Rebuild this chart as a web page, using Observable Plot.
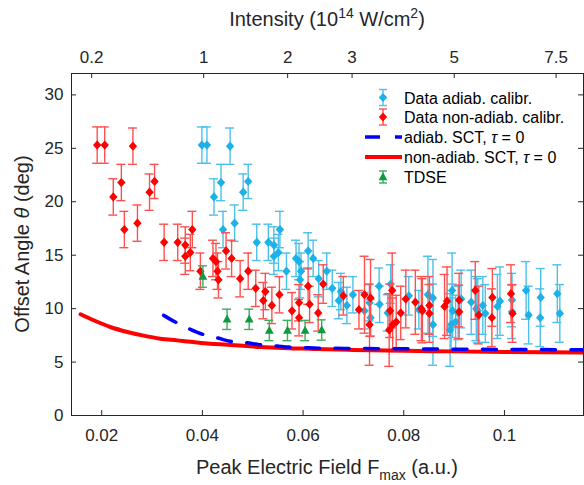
<!DOCTYPE html>
<html><head><meta charset="utf-8">
<script src="https://cdn.jsdelivr.net/npm/d3@7"></script>
<script src="https://cdn.jsdelivr.net/npm/@observablehq/plot@0.6"></script>
<style>
body{margin:0;background:#fff;}
#chart{width:584px;height:485px;}
svg{font-family:"Liberation Sans",Arial,sans-serif;}
</style></head><body><div id="chart"></div>
<script>
// ---- measured offset angles (deg) and their error bars
const theta = [25.3,25.3,25.2,20.45,21.8,17.4,18.0,20.9,21.9,16.2,16.2,15.95,17.4,14.9,15.25,13.5,
  14.7,14.4,13.5,12.7,15.4,14.7,12.8,13.5,11.9,11.6,10.75,10.3,11.3,9.8,10.55,9.15,12.1,10.4,9.6,
  12.3,11.2,9.9,11.3,11.0,8.5,11.7,9.8,8.0,8.5,8.75,9.6,10.9,10.6,10.0,9.8,10.3,9.55,10.2,10.7,
  10.8,9.7,11.7,9.4,11.05,9.15,11.4,9.55];
const thetaErr = [1.7,1.7,1.7,1.7,1.7,1.7,1.7,1.7,1.6,1.7,1.7,1.7,1.7,1.7,1.7,1.7,
  1.7,1.7,1.7,1.7,1.7,1.7,1.7,1.7,1.7,1.7,1.7,1.7,1.7,1.7,1.7,1.7,1.7,1.7,1.7,
  1.8,1.8,1.8,3.6,3.6,3.8,3.5,2.5,3.4,2.5,2.5,2.5,2.7,3.0,3.0,3.0,2.7,2.7,3.0,3.2,
  2.5,2.5,2.7,2.7,2.7,2.7,2.7,2.7];
// field (a.u.) with non-adiabatic calibration (red) and adiabatic calibration (light blue)
const fieldNonAdiab = [0.0191,0.0206,0.0262,0.0223,0.0239,0.0245,0.0271,0.0295,0.0305,0.0324,0.0351,0.0366,0.0380,0.0366,0.0376,0.0396,
  0.0421,0.0427,0.0430,0.0432,0.0447,0.0458,0.0475,0.0491,0.0506,0.0525,0.0521,0.0538,0.0553,0.0578,0.0592,0.0592,0.0610,0.0613,0.0630,
  0.0640,0.0680,0.0711,0.0722,0.0734,0.0732,0.0777,0.0773,0.0771,0.0778,0.0785,0.0794,0.0804,0.0823,0.0835,0.0837,0.0851,0.0851,0.0881,0.0886,
  0.0910,0.0910,0.0942,0.0949,0.0976,0.0975,0.1013,0.1016];
const fieldAdiab = [0.0399,0.0409,0.0455,0.0423,0.0437,0.0441,0.0464,0.0481,0.0491,0.0508,0.0531,0.0542,0.0554,0.0542,0.0551,0.0567,
  0.0586,0.0592,0.0596,0.0594,0.0610,0.0620,0.0631,0.0647,0.0658,0.0675,0.0671,0.0687,0.0699,0.0722,0.0732,0.0734,0.0751,0.0752,0.0768,
  0.0774,0.0810,0.0830,0.0848,0.0858,0.0858,0.0896,0.0897,0.0892,0.0894,0.0903,0.0908,0.0914,0.0934,0.0944,0.0947,0.0957,0.0962,0.0986,0.0991,
  0.1015,0.1015,0.1043,0.1048,0.1072,0.1071,0.1105,0.1110];
// TDSE
const tdseField = [0.0401,0.0449,0.0493,0.0533,0.0569,0.0604,0.0637];
const tdseTheta = [13.0,9.0,9.0,7.95,7.95,7.95,8.0];
const tdseErr = [1.0,0.95,0.95,0.95,0.95,0.95,0.95];
// SCT curves (tau = 0)
const nonAdiabSctField = [0.0158,0.0184,0.0217,0.0251,0.0283,0.0316,0.0350,0.0382,0.0415,0.0449,0.0481,0.0515,0.0548,0.0580,0.0614,0.0647,0.0700,0.0800,0.0900,0.1000,0.1157];
const nonAdiabSctTheta = [9.47,8.91,8.28,7.81,7.47,7.19,7.03,6.87,6.72,6.63,6.53,6.40,6.34,6.28,6.25,6.19,6.13,6.05,6.0,5.95,5.9];
const adiabSctField = [0.0323,0.0346,0.0376,0.0401,0.0431,0.0455,0.0488,0.0513,0.0548,0.0572,0.0604,0.0630,0.0700,0.0800,0.0900,0.1000,0.1157];
const adiabSctTheta = [9.37,8.75,8.06,7.59,7.25,6.94,6.81,6.63,6.50,6.40,6.34,6.30,6.27,6.24,6.20,6.18,6.15];
// axes
const xTicks = [0.02,0.04,0.06,0.08,0.1];
const xTickLabels = ["0.02","0.04","0.06","0.08","0.1"];
const yTicks = [0,5,10,15,20,25,30];
const intensityTicks = [0.2,1,2,3,5,7.5];
const intensityLabels = ["0.2","1","2","3","5","7.5"];
const intensityPerField2 = 617; // I (1e14 W/cm^2) = 617 * F^2 (elliptical pulse)

// ---- layout
const W=584,H=485, mT=73, mB=70, mL=71, mR=1;
const xDom=[0.014,0.1157], yDom=[0,32];
const pxX=(xDom[1]-xDom[0])/(W-mL-mR), pxY=(yDom[1]-yDom[0])/(H-mT-mB);
const tickLen=5, capHalf=4.5;
const axisColor="#262626";
const cRed="#ff0000", cRedBar="#ff5050", cBlue="#1cb1e7", cBlueBar="#4cc0ec", cGreen="#0e9a3e", cGreenBar="#3aad5e";

const adiab = theta.map((t,i)=>({F:fieldAdiab[i], t, e:thetaErr[i]}));
const nonAdiab = theta.map((t,i)=>({F:fieldNonAdiab[i], t, e:thetaErr[i]}));
const tdse = tdseField.map((F,i)=>({F, t:tdseTheta[i], e:tdseErr[i]}));
const redLine = nonAdiabSctField.map((F,i)=>({F, t:nonAdiabSctTheta[i]}));
const blueLine = adiabSctField.map((F,i)=>({F, t:adiabSctTheta[i]}));
const topTicks = intensityTicks.map(I=>Math.sqrt(I/intensityPerField2));

const diamond = {draw(c,s){const r=Math.sqrt(s/Math.PI); c.moveTo(0,-r*1.05); c.lineTo(r*0.95,0); c.lineTo(0,r*1.05); c.lineTo(-r*0.95,0); c.closePath();}};
const triangle = {draw(c,s){const r=Math.sqrt(s/Math.PI); c.moveTo(0,-r*1.1); c.lineTo(r,r*0.75); c.lineTo(-r,r*0.75); c.closePath();}};

function errMarks(data, color, sym, fill, r){
  return [
    Plot.ruleX(data,{x:"F", y1:d=>d.t-d.e, y2:d=>d.t+d.e, stroke:color, strokeWidth:1.4}),
    Plot.ruleY(data,{y:d=>d.t+d.e, x1:d=>d.F-capHalf*pxX, x2:d=>d.F+capHalf*pxX, stroke:color, strokeWidth:1.4}),
    Plot.ruleY(data,{y:d=>d.t-d.e, x1:d=>d.F-capHalf*pxX, x2:d=>d.F+capHalf*pxX, stroke:color, strokeWidth:1.4}),
    Plot.dot(data,{x:"F", y:"t", symbol:sym, r, fill, stroke:"none"})
  ];
}

const chart = Plot.plot({
  width:W, height:H, marginTop:mT, marginBottom:mB, marginLeft:mL, marginRight:mR,
  style:{fontFamily:"Liberation Sans, Arial, sans-serif", color:axisColor, background:"#fff"},
  x:{domain:xDom, label:null},
  y:{domain:yDom, label:null},
  marks:[
    ...errMarks(adiab, cBlueBar, diamond, cBlue, 4.4),
    ...errMarks(nonAdiab, cRedBar, diamond, cRed, 4.4),
    Plot.line(redLine,{x:"F", y:"t", stroke:cRed, strokeWidth:4, curve:"monotone-x"}),
    Plot.line(blueLine,{x:"F", y:"t", stroke:"#0000ff", strokeWidth:3.5, strokeDasharray:"14,15.5", curve:"monotone-x"}),
    ...errMarks(tdse, cGreenBar, triangle, cGreen, 4.4),
    Plot.frame({stroke:axisColor, strokeWidth:1}),
    Plot.ruleX(xTicks,{x:d=>d, y1:yDom[0], y2:yDom[0]+tickLen*pxY, stroke:axisColor}),
    Plot.ruleX(topTicks,{x:d=>d, y1:yDom[1], y2:yDom[1]-tickLen*pxY, stroke:axisColor}),
    Plot.ruleY(yTicks,{y:d=>d, x1:xDom[0], x2:xDom[0]+tickLen*pxX, stroke:axisColor}),
    Plot.ruleY(yTicks,{y:d=>d, x1:xDom[1], x2:xDom[1]-tickLen*pxX, stroke:axisColor}),
    Plot.axisX({ticks:xTicks, anchor:"bottom", tickSize:0, tickPadding:13, fontSize:17, tickFormat:d=>xTickLabels[xTicks.indexOf(d)], label:null}),
    Plot.axisX({ticks:topTicks, anchor:"top", tickSize:0, tickPadding:11, fontSize:17, tickFormat:d=>intensityLabels[topTicks.indexOf(d)], label:null}),
    Plot.axisY({ticks:yTicks, anchor:"left", tickSize:0, tickPadding:8, fontSize:17, label:null})
  ]
});
document.getElementById("chart").appendChild(chart);

// ---- axis titles
const svg = d3.select(chart);
const txt = (x,y)=>svg.append("text").attr("x",x).attr("y",y).attr("fill",axisColor).attr("font-size",20).attr("text-anchor","middle");
const cx = (mL + W - mR)/2;
const t1 = txt(cx, 26);
t1.append("tspan").text("Intensity (10");
t1.append("tspan").attr("font-size",14).attr("dy",-8).text("14");
t1.append("tspan").attr("dy",8).text(" W/cm");
t1.append("tspan").attr("font-size",14).attr("dy",-8).text("2");
t1.append("tspan").attr("dy",8).text(")");
const t2 = txt(cx, 474);
t2.append("tspan").text("Peak Electric Field F");
t2.append("tspan").attr("font-size",14).attr("dy",6).text("max");
t2.append("tspan").attr("dy",-6).text(" (a.u.)");
const t3 = svg.append("text").attr("transform",`translate(29,${(mT+H-mB)/2}) rotate(-90)`).attr("fill",axisColor).attr("font-size",20).attr("text-anchor","middle");
t3.append("tspan").text("Offset Angle ");
t3.append("tspan").attr("font-style","italic").text("θ");
t3.append("tspan").text(" (deg)");

// ---- legend
const lg = svg.append("g").attr("font-size",16).attr("fill","#000").attr("text-anchor","start");
const lx = 383, tx = 404;
const legendRows = [
  {y:97.5, kind:"err", bar:cBlueBar, fill:cBlue, sym:"d", label:["Data adiab. calibr."]},
  {y:117, kind:"err", bar:cRedBar, fill:cRed, sym:"d", label:["Data non-adiab. calibr."]},
  {y:137, kind:"dash", label:["adiab. SCT, ","τ"," = 0"]},
  {y:157, kind:"line", label:["non-adiab. SCT, ","τ"," = 0"]},
  {y:177, kind:"err", bar:cGreenBar, fill:cGreen, sym:"t", label:["TDSE"]}
];
legendRows.forEach(r=>{
  if(r.kind==="err"){
    const h = r.sym==="t"?6:8;
    lg.append("line").attr("x1",lx).attr("x2",lx).attr("y1",r.y-h).attr("y2",r.y+h).attr("stroke",r.bar).attr("stroke-width",1.4);
    [-h,h].forEach(o=>lg.append("line").attr("x1",lx-4).attr("x2",lx+4).attr("y1",r.y+o).attr("y2",r.y+o).attr("stroke",r.bar).attr("stroke-width",1.4));
    if(r.sym==="d") lg.append("path").attr("d",`M${lx},${r.y-4.6}L${lx+4.2},${r.y}L${lx},${r.y+4.6}L${lx-4.2},${r.y}Z`).attr("fill",r.fill);
    else lg.append("path").attr("d",`M${lx},${r.y-4.8}L${lx+4.4},${r.y+3.3}L${lx-4.4},${r.y+3.3}Z`).attr("fill",r.fill);
  } else if(r.kind==="dash"){
    lg.append("line").attr("x1",365).attr("x2",402).attr("y1",r.y).attr("y2",r.y).attr("stroke","#0000ff").attr("stroke-width",3.5).attr("stroke-dasharray","15,15");
  } else {
    lg.append("line").attr("x1",365).attr("x2",402).attr("y1",r.y).attr("y2",r.y).attr("stroke",cRed).attr("stroke-width",4);
  }
  const t = lg.append("text").attr("x",tx).attr("y",r.y+6);
  r.label.forEach(s=>{const sp=t.append("tspan").text(s); if(s==="τ") sp.attr("font-style","italic");});
});
</script>
</body></html>
